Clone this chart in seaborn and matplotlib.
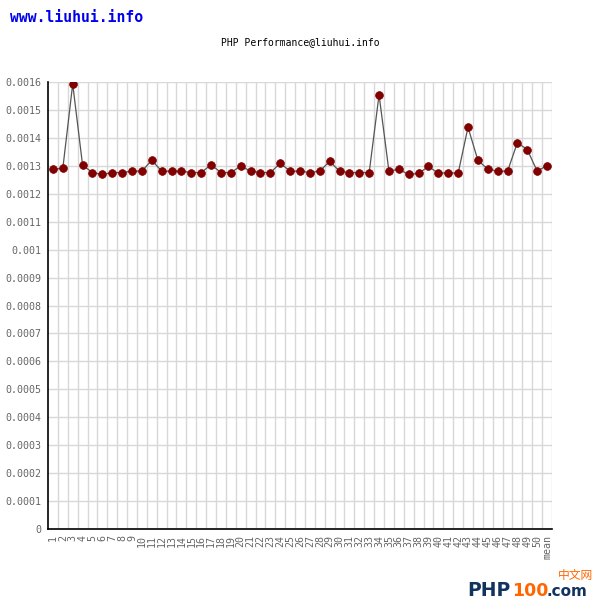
import numpy as np
import matplotlib
matplotlib.use('Agg')
import matplotlib.pyplot as plt
from matplotlib.ticker import MultipleLocator, FuncFormatter
import seaborn as sns

runs = [str(i) for i in range(1, 51)] + ['mean']
times = [0.001288, 0.001291, 0.001593, 0.001302, 0.001276, 0.001269, 0.001276, 0.001276, 0.001281, 0.001281,
         0.001320, 0.001281, 0.001281, 0.001281, 0.001276, 0.001276, 0.001304, 0.001276, 0.001276, 0.001299,
         0.001281, 0.001276, 0.001276, 0.001309, 0.001281, 0.001281, 0.001276, 0.001281, 0.001316, 0.001281,
         0.001276, 0.001276, 0.001276, 0.001554, 0.001281, 0.001288, 0.001269, 0.001273, 0.001298, 0.001273,
         0.001276, 0.001273, 0.001438, 0.001320, 0.001288, 0.001281, 0.001281, 0.001383, 0.001358, 0.001281,
         0.001301]
idx = np.arange(len(runs))

sns.set_style('white')
plt.rcParams['font.family'] = ['DejaVu Sans Mono']

fig = plt.figure(figsize=(6, 6), dpi=100)
ax = fig.add_axes([0.08, 0.1183, 0.84, 0.745])

# gray line with dark red dots
sns.lineplot(x=idx, y=times, ax=ax, color='#555555', linewidth=0.9,
             marker='o', markersize=5.6, markerfacecolor='#800000',
             markeredgecolor='#800000', markeredgewidth=0.5)

ax.set_xlim(-0.5, len(runs) - 0.5)
ax.set_ylim(0, 0.0016)

# y ticks every 0.0001, trailing zeros dropped
ax.yaxis.set_major_locator(MultipleLocator(0.0001))
ax.yaxis.set_major_formatter(FuncFormatter(lambda v, p: f"{v:.4f}".rstrip('0').rstrip('.')))

ax.set_xticks(idx)
ax.set_xticklabels(runs, rotation=90)
ax.set_xticks(idx + 0.5, minor=True)

ax.tick_params(axis='both', which='both', length=0, labelsize=7.2, labelcolor='#666666')
ax.tick_params(axis='y', pad=5)
ax.tick_params(axis='x', pad=4)

# grid: horizontal at ticks, vertical between runs
ax.grid(False)
ax.yaxis.grid(True, which='major', color='#d8d8d8', linewidth=1)
ax.xaxis.grid(True, which='minor', color='#d8d8d8', linewidth=1)
ax.set_axisbelow(True)

sns.despine(ax=ax, top=True, right=True)
for s in ['left', 'bottom']:
    ax.spines[s].set_color('black')
    ax.spines[s].set_linewidth(1.2)

ax.set_xlabel('')
ax.set_ylabel('')

# header and title
fig.text(10 / 600, 1 - 18 / 600, 'www.liuhui.info', color='#0000ee', fontsize=10.6,
         fontweight='bold', va='center', ha='left')
fig.text(300 / 600, 1 - 42 / 600, 'PHP Performance@liuhui.info', color='black', fontsize=7,
         va='center', ha='center')

# logo bottom right
fig.text(558 / 600, 1 - 575 / 600, '中文网', color='#ff6600', fontsize=8.5,
         family=['Noto Sans CJK SC', 'DejaVu Sans'], va='center', ha='left')
fig.text(467 / 600, 1 - 596 / 600, 'PHP', color='#13335f', fontsize=13.5,
         family='DejaVu Sans', fontweight='bold', va='baseline', ha='left')
fig.text(512 / 600, 1 - 596 / 600, '100', color='#ff6600', fontsize=12.5,
         family='DejaVu Sans', fontweight='bold', va='baseline', ha='left')
fig.text(547 / 600, 1 - 596 / 600, '.com', color='#13335f', fontsize=11,
         family='DejaVu Sans', fontweight='bold', va='baseline', ha='left')

plt.savefig('out.png', dpi=100)
